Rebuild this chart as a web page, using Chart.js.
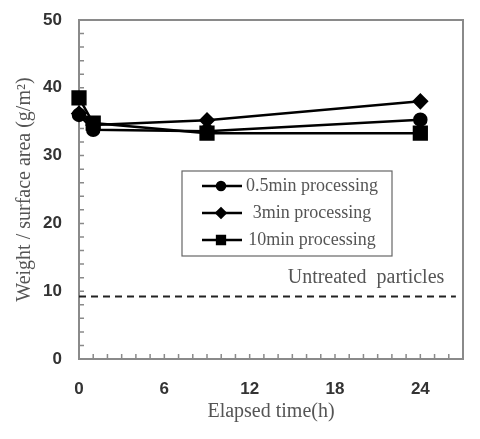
<!DOCTYPE html>
<html>
<head>
<meta charset="utf-8">
<script src="https://cdn.jsdelivr.net/npm/chart.js@4.4.1/dist/chart.umd.min.js"></script>
<style>
  html, body { margin: 0; padding: 0; background: #fff; }
  #wrap { width: 480px; height: 439px; }
</style>
</head>
<body>
<div id="wrap"><canvas id="c"></canvas></div>
<script>
// ---------- dados
const hours = [0, 1, 9, 24];
const serie05 = [36.0, 33.8, 33.6, 35.3];
const serie3 = [36.2, 34.5, 35.2, 38.0];
const serie10 = [38.5, 34.8, 33.3, 33.3];
const seriesNames = ['0.5min processing', '3min processing', '10min processing'];
const untreatedValue = 9.2;
const untreatedX = [0, 26.5];
const xTicks = [0, 6, 12, 18, 24];
const yTicks = [0, 10, 20, 30, 40, 50];

const pts = (ys) => ys.map((y, i) => ({ x: hours[i], y }));
const ink = '#000';
const axisGray = '#8a8a8a';
const textGray = '#555';
const tickFont = { size: 17, weight: 'bold', family: '"Liberation Sans", Arial, sans-serif' };

// ---------- moldura, tiques internos, legenda e rótulo
const decor = {
  id: 'decor',
  beforeDatasetsDraw(chart) {
    const { ctx, chartArea: a, scales: { x, y } } = chart;
    ctx.save();
    ctx.strokeStyle = axisGray;
    ctx.lineWidth = 2;
    ctx.strokeRect(a.left, a.top, a.right - a.left, a.bottom - a.top);

    ctx.lineWidth = 1.5;
    ctx.beginPath();
    for (let h = 1; h <= 26; h++) {
      const px = x.getPixelForValue(h);
      ctx.moveTo(px, a.bottom);
      ctx.lineTo(px, a.bottom - 5);
    }
    for (let v = 2; v < 50; v += 2) {
      const py = y.getPixelForValue(v);
      ctx.moveTo(a.left, py);
      ctx.lineTo(a.left + 5, py);
    }
    ctx.stroke();
    ctx.restore();
  },
  afterDraw(chart) {
    const { ctx } = chart;
    ctx.save();
    // legenda
    const bx = 182, by = 171, bw = 210, bh = 85;
    ctx.strokeStyle = '#666';
    ctx.lineWidth = 1.2;
    ctx.strokeRect(bx, by, bw, bh);
    const rows = [186, 213, 240];
    const styles = ['circle', 'rectRot', 'rect'];
    const radii = [4, 4.5, 5.5];
    rows.forEach((ry, i) => {
      ctx.strokeStyle = ink;
      ctx.lineWidth = 2.5;
      ctx.beginPath();
      ctx.moveTo(202, ry);
      ctx.lineTo(242, ry);
      ctx.stroke();
      ctx.fillStyle = ink;
      Chart.helpers.drawPoint(ctx, { pointStyle: styles[i], radius: radii[i], borderWidth: 1 }, 221, ry);
      ctx.fillStyle = textGray;
      ctx.font = '18px "Liberation Serif", serif';
      ctx.textAlign = 'center';
      ctx.textBaseline = 'middle';
      ctx.fillText(seriesNames[i], 312, ry);
    });

    ctx.fillStyle = textGray;
    ctx.font = '20px "Liberation Serif", serif';
    ctx.textAlign = 'center';
    ctx.textBaseline = 'middle';
    ctx.fillText('Untreated  particles', 366, 278);
    ctx.restore();
  }
};

new Chart(document.getElementById('c'), {
  type: 'line',
  data: {
    datasets: [
      { label: 'Untreated particles', data: untreatedX.map(v => ({ x: v, y: untreatedValue })),
        borderColor: '#222', borderWidth: 2, borderDash: [7, 5], pointRadius: 0, order: 4 },
      { label: seriesNames[0], data: pts(serie05), borderColor: ink, backgroundColor: ink,
        borderWidth: 2.5, pointStyle: 'circle', pointRadius: 6, clip: false, order: 2 },
      { label: seriesNames[1], data: pts(serie3), borderColor: ink, backgroundColor: ink,
        borderWidth: 2.5, pointStyle: 'rectRot', pointRadius: 6.5, clip: false, order: 1 },
      { label: seriesNames[2], data: pts(serie10), borderColor: ink, backgroundColor: ink,
        borderWidth: 2.5, pointStyle: 'rect', pointRadius: 9, clip: false, order: 3 }
    ]
  },
  options: {
    responsive: true,
    maintainAspectRatio: false,
    animation: false,
    layout: { padding: { top: 20, right: 17, left: 0, bottom: 0 } },
    plugins: { legend: { display: false }, tooltip: { enabled: false } },
    scales: {
      x: {
        type: 'linear', min: 0, max: 27,
        afterBuildTicks: (s) => { s.ticks = xTicks.map(v => ({ value: v })); },
        afterFit: (s) => { s.height = 80; },
        grid: { display: false },
        border: { display: false },
        ticks: { color: '#333', padding: 12, font: tickFont },
        title: { display: true, text: 'Elapsed time(h)', color: textGray, padding: { top: 0, bottom: 15 },
          font: { size: 20, family: '"Liberation Serif", serif' } }
      },
      y: {
        min: 0, max: 50,
        afterBuildTicks: (s) => { s.ticks = yTicks.map(v => ({ value: v })); },
        afterFit: (s) => { s.width = 79; },
        grid: { display: false },
        border: { display: false },
        ticks: { color: '#333', padding: 9, font: tickFont },
        title: { display: true, text: 'Weight / surface area (g/m²)', color: textGray, padding: { top: 13, bottom: 0 },
          font: { size: 20, family: '"Liberation Serif", serif' } }
      }
    }
  },
  plugins: [decor]
});
</script>
</body>
</html>
